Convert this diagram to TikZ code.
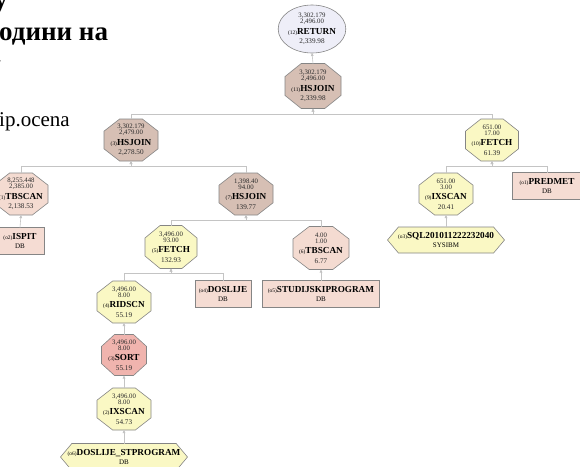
\documentclass[tikz,border=0pt]{standalone}
\usepackage{fontspec}
\setmainfont{Liberation Serif}
\usetikzlibrary{shapes.geometric,arrows.meta}

\makeatletter
\newdimen\shpxa \newdimen\shpya \newdimen\shpxb \newdimen\shpyb
\newdimen\shpcx \newdimen\shpcy
% octagon with cut corners, sized like a rectangle node
\pgfdeclareshape{octbox}{
  \inheritsavedanchors[from=rectangle]
  \inheritanchorborder[from=rectangle]
  \inheritanchor[from=rectangle]{center}
  \inheritanchor[from=rectangle]{north}
  \inheritanchor[from=rectangle]{south}
  \inheritanchor[from=rectangle]{east}
  \inheritanchor[from=rectangle]{west}
  \inheritanchor[from=rectangle]{north east}
  \inheritanchor[from=rectangle]{north west}
  \inheritanchor[from=rectangle]{south east}
  \inheritanchor[from=rectangle]{south west}
  \inheritanchor[from=rectangle]{text}
  \inheritanchor[from=rectangle]{base}
  \inheritanchor[from=rectangle]{mid}
  \backgroundpath{
    \southwest \shpxa=\pgf@x \shpya=\pgf@y
    \northeast \shpxb=\pgf@x \shpyb=\pgf@y
    \shpcx=\shpxb \advance\shpcx by -\shpxa \shpcx=0.29\shpcx
    \shpcy=\shpyb \advance\shpcy by -\shpya \shpcy=0.29\shpcy
    \pgfpathmoveto{\pgfqpoint{\dimexpr\shpxa+\shpcx\relax}{\shpya}}
    \pgfpathlineto{\pgfqpoint{\dimexpr\shpxb-\shpcx\relax}{\shpya}}
    \pgfpathlineto{\pgfqpoint{\shpxb}{\dimexpr\shpya+\shpcy\relax}}
    \pgfpathlineto{\pgfqpoint{\shpxb}{\dimexpr\shpyb-\shpcy\relax}}
    \pgfpathlineto{\pgfqpoint{\dimexpr\shpxb-\shpcx\relax}{\shpyb}}
    \pgfpathlineto{\pgfqpoint{\dimexpr\shpxa+\shpcx\relax}{\shpyb}}
    \pgfpathlineto{\pgfqpoint{\shpxa}{\dimexpr\shpyb-\shpcy\relax}}
    \pgfpathlineto{\pgfqpoint{\shpxa}{\dimexpr\shpya+\shpcy\relax}}
    \pgfpathclose
  }
}
% hexagon pointed to the left and right
\pgfdeclareshape{hexbox}{
  \inheritsavedanchors[from=rectangle]
  \inheritanchorborder[from=rectangle]
  \inheritanchor[from=rectangle]{center}
  \inheritanchor[from=rectangle]{north}
  \inheritanchor[from=rectangle]{south}
  \inheritanchor[from=rectangle]{east}
  \inheritanchor[from=rectangle]{west}
  \inheritanchor[from=rectangle]{text}
  \inheritanchor[from=rectangle]{base}
  \inheritanchor[from=rectangle]{mid}
  \backgroundpath{
    \southwest \shpxa=\pgf@x \shpya=\pgf@y
    \northeast \shpxb=\pgf@x \shpyb=\pgf@y
    \shpcx=\shpyb \advance\shpcx by -\shpya \shpcx=0.42\shpcx
    \shpcy=\shpyb \advance\shpcy by \shpya \shpcy=0.5\shpcy
    \pgfpathmoveto{\pgfqpoint{\dimexpr\shpxa+\shpcx\relax}{\shpya}}
    \pgfpathlineto{\pgfqpoint{\dimexpr\shpxb-\shpcx\relax}{\shpya}}
    \pgfpathlineto{\pgfqpoint{\shpxb}{\shpcy}}
    \pgfpathlineto{\pgfqpoint{\dimexpr\shpxb-\shpcx\relax}{\shpyb}}
    \pgfpathlineto{\pgfqpoint{\dimexpr\shpxa+\shpcx\relax}{\shpyb}}
    \pgfpathlineto{\pgfqpoint{\shpxa}{\shpcy}}
    \pgfpathclose
  }
}
\makeatother

\definecolor{joinfill}{HTML}{D6BFB4}
\definecolor{scanfill}{HTML}{F4DBD1}
\definecolor{fetchfill}{HTML}{FAF8C4}
\definecolor{sortfill}{HTML}{F0B4AE}
\definecolor{tabfill}{HTML}{F5DCD3}
\definecolor{retfill}{HTML}{EEEEF8}
\definecolor{rim}{HTML}{858585}
\definecolor{wire}{HTML}{C4C4C4}
\definecolor{tipgrey}{HTML}{A4A4A4}
\definecolor{numgrey}{HTML}{2A2A2A}

\newcommand\nodefont{\fontsize{6.8}{6}\selectfont\lineskiplimit=-20pt\relax}
\newcommand\numf{\fontsize{6.8}{6}\selectfont\color{numgrey}}
\newcommand\idxf{\fontsize{5.4}{6}\selectfont}
\newcommand\namef{\fontsize{9.2}{9}\selectfont\bfseries}
\newcommand\costf{\fontsize{7.2}{6}\selectfont\color{numgrey}}
\newcommand\subf{\fontsize{7}{6}\selectfont}
% operator: rows, cardinality, number, name, cost
\newcommand\opbody[5]{{\numf #1}\\{\numf #2}\\[4.3pt]{\idxf(#3)}{\namef #4}\\[3.6pt]{\costf #5}}
% table or index: number, name, schema
\newcommand\objbody[3]{{\idxf(#1)}{\namef #2}\\[3.2pt]{\subf #3}}

\begin{document}
\begin{tikzpicture}[x=1pt,y=-1pt,
  shapebase/.style={draw=rim, line width=0.6pt, inner sep=0pt, outer sep=0pt,
    align=center, font=\nodefont},
  opnode/.style={shapebase, shape=octbox, minimum width=54pt, minimum height=42pt},
  joinop/.style={opnode, fill=joinfill},
  scanop/.style={opnode, fill=scanfill},
  fetchop/.style={opnode, fill=fetchfill},
  sortop/.style={opnode, fill=sortfill, minimum width=45pt, minimum height=41pt},
  tabnode/.style={shapebase, rectangle, fill=tabfill, minimum height=27pt},
  hexnode/.style={shapebase, shape=hexbox, fill=fetchfill, minimum height=27pt},
  retnode/.style={shapebase, ellipse, fill=retfill, minimum width=56pt, minimum height=48pt},
  wireline/.style={draw=wire, line width=0.6pt},
  arrowline/.style={wireline, -{Triangle[length=3pt,width=2.6pt,fill=tipgrey]}},
  slidebold/.style={anchor=base west, inner sep=0pt, font=\fontsize{27}{30}\selectfont\bfseries},
  slideplain/.style={anchor=base west, inner sep=0pt, font=\fontsize{21}{24}\selectfont}
]
\useasboundingbox[fill=white] (0,0) rectangle (580,466);

% slide text at the left edge
\node[slidebold] (topletter) at (-6,8) {у};
\node[slidebold] (headline) at (-1,40) {одини на};
\node[anchor=west, inner sep=0pt, font=\fontsize{9}{9}\selectfont] (dashmark) at (-2,62) {-};
\node[slideplain] (colname) at (-1,126) {ip.ocena};

% operators
\node[retnode] (ret) at (312,29) {\opbody{3,302.179}{2,496.00}{12}{RETURN}{2,339.98}};
\node[joinop, minimum width=56pt, minimum height=45pt] (j11) at (313,86) {\opbody{3,302.179}{2,496.00}{11}{HSJOIN}{2,339.98}};
\node[joinop] (j3) at (131,140) {\opbody{3,302.179}{2,479.00}{3}{HSJOIN}{2,278.50}};
\node[fetchop, minimum width=53pt] (f10) at (492,140) {\opbody{651.00}{17.00}{10}{FETCH}{61.39}};
\node[scanop] (t1) at (21,194) {\opbody{8,255.448}{2,385.00}{1}{TBSCAN}{2,138.53}};
\node[joinop] (j7) at (246,194) {\opbody{1,398.40}{94.00}{7}{HSJOIN}{139.77}};
\node[fetchop] (ix9) at (446,194) {\opbody{651.00}{3.00}{9}{IXSCAN}{20.41}};
\node[fetchop, minimum width=52pt, minimum height=43pt] (f5) at (171,247) {\opbody{3,496.00}{93.00}{5}{FETCH}{132.93}};
\node[scanop, minimum width=56pt, minimum height=43pt] (t6) at (321,248) {\opbody{4.00}{1.00}{6}{TBSCAN}{6.77}};
\node[fetchop] (r4) at (124,302) {\opbody{3,496.00}{8.00}{4}{RIDSCN}{55.19}};
\node[sortop] (s3) at (124,355) {\opbody{3,496.00}{8.00}{3}{SORT}{55.19}};
\node[fetchop] (ix2) at (124,409) {\opbody{3,496.00}{8.00}{2}{IXSCAN}{54.73}};

% tables and indexes
\node[tabnode, minimum width=70pt] (pred) at (547,186) {\objbody{o1}{PREDMET}{DB}};
\node[tabnode, minimum width=48pt] (ispit) at (20,241) {\objbody{o2}{ISPIT}{DB}};
\node[hexnode, minimum width=117pt, minimum height=26pt] (sql) at (446,240) {\objbody{o3}{SQL201011222232040}{SYSIBM}};
\node[tabnode, minimum width=56pt] (dos) at (223,294) {\objbody{o4}{DOSLIJE}{DB}};
\node[tabnode, minimum width=117pt] (stud) at (321,294) {\objbody{o5}{STUDIJSKIPROGRAM}{DB}};
\node[hexnode, minimum width=127pt] (dsp) at (124,457) {\objbody{o6}{DOSLIJE\_STPROGRAM}{DB}};

% bus points below operators with two inputs
\coordinate (bj11) at ([yshift=-5.5pt]j11.south);
\coordinate (bj3) at ([yshift=-5.5pt]j3.south);
\coordinate (bf10) at ([yshift=-5pt]f10.south);
\coordinate (bj7) at ([yshift=-5pt]j7.south);
\coordinate (bf5) at ([yshift=-5pt]f5.south);

% data flow, child to parent
\draw[arrowline] (j11.north) -- (ret.south);
\draw[arrowline] (j3.north) |- (bj11) -- (j11.south);
\draw[arrowline] (f10.north) |- (bj11) -- (j11.south);
\draw[arrowline] (t1.north) |- (bj3) -- (j3.south);
\draw[arrowline] (j7.north) |- (bj3) -- (j3.south);
\draw[arrowline] (ix9.north) |- (bf10) -- (f10.south);
\draw[arrowline] (pred.north) |- (bf10) -- (f10.south);
\draw[arrowline] (ispit.north) -- (t1.south);
\draw[arrowline] (sql.north) -- (ix9.south);
\draw[arrowline] (f5.north) |- (bj7) -- (j7.south);
\draw[arrowline] (t6.north) |- (bj7) -- (j7.south);
\draw[arrowline] (r4.north) |- (bf5) -- (f5.south);
\draw[arrowline] (dos.north) |- (bf5) -- (f5.south);
\draw[arrowline] (stud.north) -- (t6.south);
\draw[arrowline] (s3.north) -- (r4.south);
\draw[arrowline] (ix2.north) -- (s3.south);
\draw[arrowline] (dsp.north) -- (ix2.south);
\end{tikzpicture}
\end{document}
